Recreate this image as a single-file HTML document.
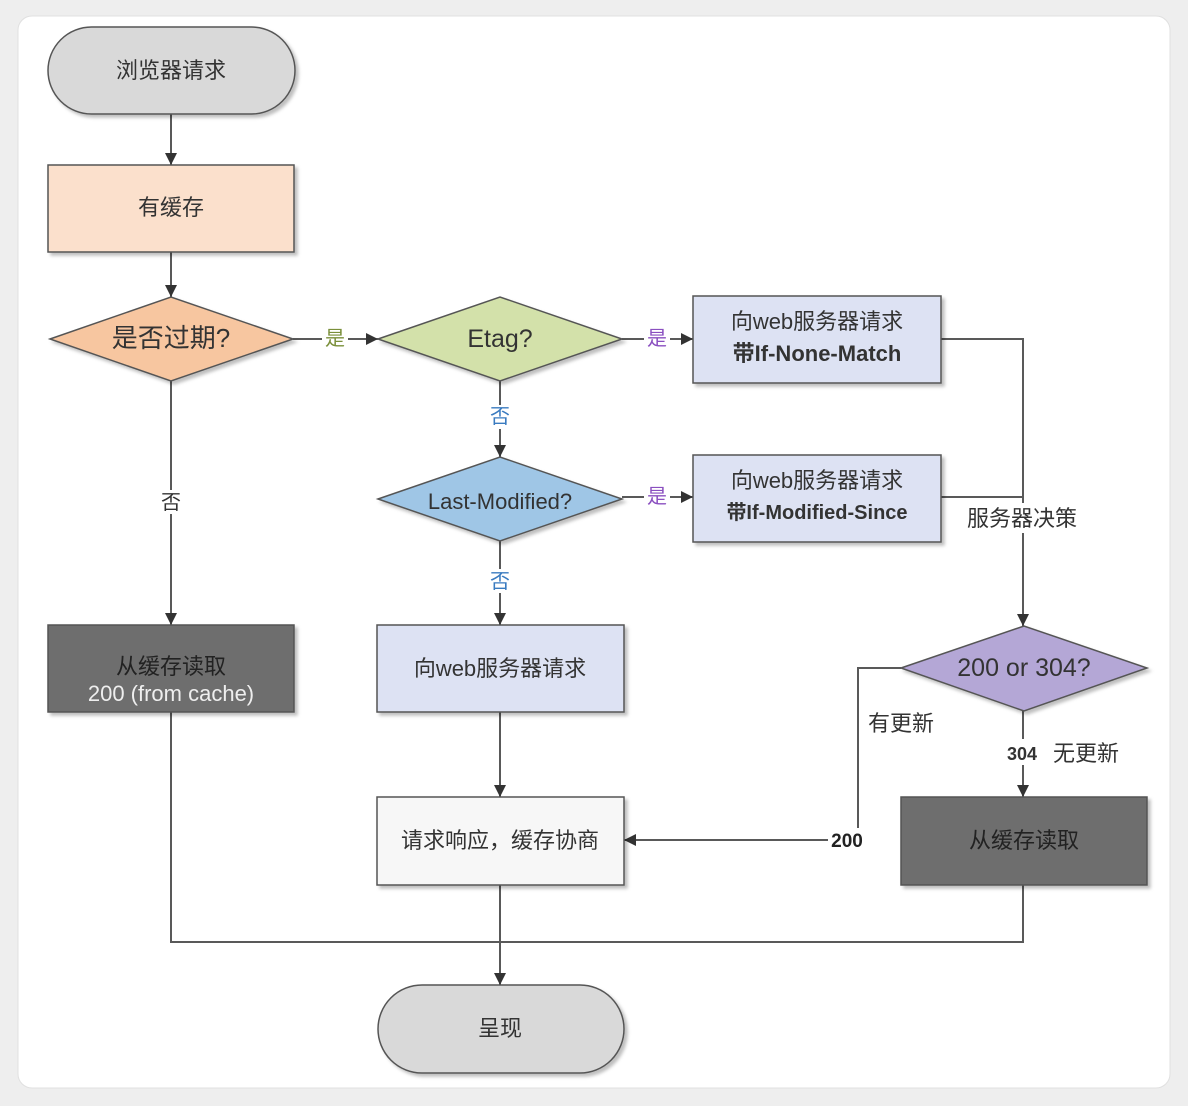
<!DOCTYPE html>
<html><head><meta charset="utf-8"><style>
html,body{margin:0;padding:0;background:#f0f0f0;}
svg{display:block;}
text{font-family:"Liberation Sans","Noto Sans CJK SC",sans-serif;}
</style></head><body>
<svg width="1188" height="1106" viewBox="0 0 1188 1106" xmlns="http://www.w3.org/2000/svg">
<defs>
<marker id="a" viewBox="0 0 10 10" refX="10" refY="5" markerWidth="12" markerHeight="12" orient="auto" markerUnits="userSpaceOnUse"><path d="M0,0 L10,5 L0,10 z" fill="#333"/></marker>
<filter id="s" x="-10%" y="-10%" width="130%" height="130%"><feDropShadow dx="3" dy="3" stdDeviation="1.5" flood-color="#000" flood-opacity="0.25"/></filter>
</defs>
<rect x="0" y="0" width="1188" height="1106" fill="#eeeeee"/>
<rect x="18" y="16" width="1152" height="1072" rx="14" fill="#fff" stroke="#e0e0e0"/>
<g stroke="#595959" stroke-width="2" fill="none">
<line x1="171" y1="114" x2="171" y2="165" marker-end="url(#a)"/>
<line x1="171" y1="252" x2="171" y2="297" marker-end="url(#a)"/>
<line x1="171" y1="381" x2="171" y2="625" marker-end="url(#a)"/>
<line x1="293" y1="339" x2="378" y2="339" marker-end="url(#a)"/>
<line x1="622" y1="339" x2="693" y2="339" marker-end="url(#a)"/>
<line x1="500" y1="381" x2="500" y2="457" marker-end="url(#a)"/>
<line x1="622" y1="497" x2="693" y2="497" marker-end="url(#a)"/>
<line x1="500" y1="541" x2="500" y2="625" marker-end="url(#a)"/>
<polyline points="941,339 1023,339 1023,626" marker-end="url(#a)"/>
<line x1="941" y1="497" x2="1023" y2="497"/>
<polyline points="901,668 858,668 858,840 624,840" marker-end="url(#a)"/>
<line x1="1023" y1="711" x2="1023" y2="797" marker-end="url(#a)"/>
<line x1="500" y1="712" x2="500" y2="797" marker-end="url(#a)"/>
<line x1="500" y1="885" x2="500" y2="985" marker-end="url(#a)"/>
<polyline points="171,712 171,942 1023,942 1023,885"/>
</g>
<g stroke="#555" stroke-width="1.5" filter="url(#s)">
<rect x="48" y="27" width="247" height="87" rx="43.5" fill="#d9d9d9"/>
<rect x="48" y="165" width="246" height="87" fill="#fbe0cc"/>
<polygon points="50,339 171,297 293,339 171,381" fill="#f7c6a0"/>
<polygon points="378,339 500,297 622,339 500,381" fill="#d3e1aa"/>
<rect x="693" y="296" width="248" height="87" fill="#dde2f3"/>
<polygon points="378,499 500,457 622,499 500,541" fill="#9fc6e6"/>
<rect x="693" y="455" width="248" height="87" fill="#dde2f3"/>
<rect x="48" y="625" width="246" height="87" fill="#6e6e6e"/>
<rect x="377" y="625" width="247" height="87" fill="#dde2f3"/>
<polygon points="901,668 1024,626 1147,668 1024,711" fill="#b4a7d6"/>
<rect x="377" y="797" width="247" height="88" fill="#f7f7f7"/>
<rect x="901" y="797" width="246" height="88" fill="#6e6e6e"/>
<rect x="378" y="985" width="246" height="88" rx="44" fill="#d9d9d9"/>
</g>
<g fill="#333" font-size="22" text-anchor="middle">
<text x="171" y="78">浏览器请求</text>
<text x="171" y="215">有缓存</text>
<text x="171" y="347" font-size="26">是否过期?</text>
<text x="500" y="347" font-size="25">Etag?</text>
<text x="817" y="329" font-size="22">向web服务器请求</text>
<text x="817" y="361" font-size="22" font-weight="bold">带If-None-Match</text>
<text x="500" y="509" font-size="22">Last-Modified?</text>
<text x="817" y="488" font-size="22">向web服务器请求</text>
<text x="817" y="519" font-size="20" font-weight="bold">带If-Modified-Since</text>
<text x="171" y="674" font-size="22" fill="#222">从缓存读取</text>
<text x="171" y="701" font-size="22" fill="#eee">200 (from cache)</text>
<text x="500" y="676">向web服务器请求</text>
<text x="1024" y="676" font-size="25">200 or 304?</text>
<text x="500" y="848">请求响应，缓存协商</text>
<text x="1024" y="848" fill="#222">从缓存读取</text>
<text x="500" y="1036">呈现</text>
</g>
<g font-size="20" text-anchor="middle">
<rect x="160" y="490" width="22" height="24" fill="#fff"/><text x="171" y="509" fill="#333">否</text>
<rect x="322" y="325" width="26" height="26" fill="#fff"/><text x="335" y="345" fill="#7a8f3a">是</text>
<rect x="644" y="325" width="26" height="26" fill="#fff"/><text x="657" y="345" fill="#8a4fc0">是</text>
<rect x="644" y="484" width="26" height="26" fill="#fff"/><text x="657" y="503" fill="#8a4fc0">是</text>
<rect x="489" y="405" width="22" height="24" fill="#fff"/><text x="500" y="423" fill="#3a7bc0">否</text>
<rect x="489" y="569" width="22" height="24" fill="#fff"/><text x="500" y="588" fill="#3a7bc0">否</text>
<rect x="962" y="503" width="122" height="30" fill="#fff"/><text x="1022" y="526" fill="#333" font-size="22">服务器决策</text>
<text x="901" y="731" fill="#333" font-size="22">有更新</text>
<rect x="1003" y="739" width="40" height="26" fill="#fff"/><text x="1022" y="760" fill="#333" font-size="18" font-weight="bold">304</text>
<text x="1086" y="761" fill="#333" font-size="22">无更新</text>
<rect x="828" y="828" width="38" height="24" fill="#fff"/><text x="847" y="847" fill="#222" font-size="19" font-weight="bold">200</text>
</g>
</svg>
</body></html>
